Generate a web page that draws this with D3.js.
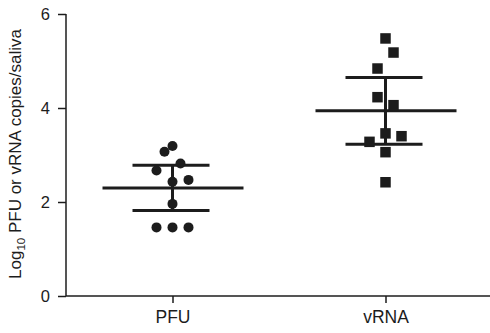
<!DOCTYPE html>
<html>
<head>
<meta charset="utf-8">
<script src="https://cdn.jsdelivr.net/npm/d3@7"></script>
<style>
  body { margin: 0; background: #fff; }
  svg { display: block; font-family: Arial, "Liberation Sans", sans-serif; }
</style>
</head>
<body>
<div id="chart"></div>
<script>
// Data (log10 values), in sample order
const groups = ["PFU", "vRNA"]
const pfuValues = [3.19, 3.07, 2.82, 2.67, 2.43, 2.47, 1.96, 1.46, 1.46, 1.46]
const rnaValues = [5.48, 4.84, 5.18, 4.23, 4.06, 3.28, 3.46, 3.40, 3.06, 2.42]
const yTicks = [0, 2, 4, 6]

const width = 490, height = 333
const margin = {top: 14, right: 0, bottom: 37, left: 66}

const svg = d3.select("#chart").append("svg")
    .attr("width", width)
    .attr("height", height)

const x = d3.scalePoint()
    .domain(groups)
    .range([margin.left, 492])
    .padding(0.5)
const y = d3.scaleLinear()
    .domain([0, 6])
    .range([height - margin.bottom, margin.top])

const ink = "#1c1c1c"

// axes
const yAxis = svg.append("g")
    .attr("transform", `translate(${margin.left},0)`)
    .call(d3.axisLeft(y).tickValues(yTicks).tickFormat(d3.format("d")).tickSize(8).tickPadding(8))
yAxis.select(".domain").attr("d", `M0,${y(6)}V${y(0)}`)
const xAxis = svg.append("g")
    .attr("transform", `translate(0,${y(0)})`)
    .call(d3.axisBottom(x).tickSize(7).tickPadding(8))
xAxis.select(".domain").attr("d", `M${margin.left},0H${width}`)

svg.selectAll(".domain, .tick line").attr("stroke", ink).attr("stroke-width", 1.5)
yAxis.selectAll("text").attr("font-size", 16.5).attr("fill", ink)
xAxis.selectAll("text").attr("font-size", 17.5).attr("fill", ink)

// y label
const yLabel = svg.append("text")
    .attr("transform", `translate(21,154) rotate(-90)`)
    .attr("text-anchor", "middle")
    .attr("font-size", 17)
    .attr("fill", ink)
yLabel.append("tspan").text("Log")
yLabel.append("tspan").attr("font-size", 11.5).attr("dy", 4).text("10")
yLabel.append("tspan").attr("dy", -4).text(" PFU or vRNA copies/saliva")

// scatter layout: points falling in the same row are spread side by side
function spread(values) {
  const rows = d3.group(values.map((v, i) => ({v, i})), d => Math.floor((y(d.v) - 9) / 20))
  const out = []
  rows.forEach(pts => pts.forEach((p, k) => out.push({v: p.v, dx: (k - (pts.length - 1) / 2) * 16})))
  return out
}

// mean with 95% CI (t, df = 9)
const tCrit = 2.262
function drawStats(values, cx) {
  const m = d3.mean(values)
  const ci = tCrit * d3.deviation(values) / Math.sqrt(values.length)
  const g = svg.append("g").attr("stroke", ink).attr("stroke-width", 3)
  g.append("line").attr("x1", cx - 70).attr("x2", cx + 71).attr("y1", y(m)).attr("y2", y(m))
  g.append("line").attr("x1", cx).attr("x2", cx).attr("y1", y(m + ci)).attr("y2", y(m - ci))
  ;[m + ci, m - ci].forEach(v => {
    g.append("line").attr("x1", cx - 40).attr("x2", cx + 37).attr("y1", y(v)).attr("y2", y(v))
  })
}

drawStats(pfuValues, x("PFU"))
drawStats(rnaValues, x("vRNA"))

svg.append("g").selectAll("circle")
    .data(spread(pfuValues))
    .join("circle")
    .attr("cx", d => x("PFU") + d.dx)
    .attr("cy", d => y(d.v))
    .attr("r", 5)
    .attr("fill", ink)

const s = 10.5
svg.append("g").selectAll("rect")
    .data(spread(rnaValues))
    .join("rect")
    .attr("x", d => x("vRNA") + d.dx - s / 2)
    .attr("y", d => y(d.v) - s / 2)
    .attr("width", s)
    .attr("height", s)
    .attr("fill", ink)
</script>
</body>
</html>
